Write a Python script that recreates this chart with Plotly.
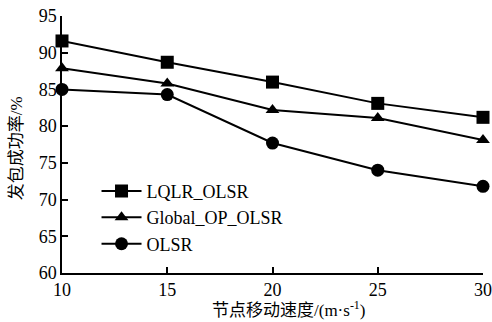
import plotly.graph_objects as go

speeds = [10, 15, 20, 25, 30]
lqlr_olsr = [91.6, 88.7, 86.0, 83.1, 81.2]
global_op_olsr = [87.9, 85.8, 82.2, 81.1, 78.1]
olsr = [85.0, 84.3, 77.7, 74.0, 71.8]

x_ticks = [10, 15, 20, 25, 30]
y_ticks = [60, 65, 70, 75, 80, 85, 90, 95]

LATIN = "Liberation Serif"
FONT = "Liberation Serif, Noto Sans CJK SC"

fig = go.Figure()
series = [
    ("LQLR_OLSR", lqlr_olsr, "square", 13),
    ("Global_OP_OLSR", global_op_olsr, "triangle-up", 12),
    ("OLSR", olsr, "circle", 13),
]
for name, vals, sym, sz in series:
    fig.add_trace(go.Scatter(
        x=speeds, y=vals, name=name, mode="lines+markers",
        line=dict(color="black", width=2),
        marker=dict(symbol=sym, size=sz, color="black"),
        cliponaxis=False,
    ))

fig.update_layout(
    width=492, height=322,
    margin=dict(l=62, r=9, t=16, b=49, autoexpand=False),
    paper_bgcolor="white", plot_bgcolor="white",
    font=dict(size=17, color="black"),
    showlegend=True,
    legend=dict(x=0.082, y=0.39, xanchor="left", yanchor="top",
                bgcolor="rgba(0,0,0,0)", font=dict(size=18, family=LATIN),
                tracegroupgap=0, itemwidth=40),
    xaxis=dict(range=[10, 30], tickvals=x_ticks, ticks="inside", ticklen=6,
               showline=True, linecolor="black", linewidth=1.5, showgrid=False,
               zeroline=False, tickcolor="black", tickwidth=1.5,
               automargin=False, tickfont=dict(size=18, family=LATIN)),
    yaxis=dict(range=[60, 95], tickvals=y_ticks, ticks="inside", ticklen=6,
               showline=True, linecolor="black", linewidth=1.5, showgrid=False,
               zeroline=False, tickcolor="black", tickwidth=1.5,
               automargin=False, tickfont=dict(size=18, family=LATIN)),
    annotations=[
        dict(text="节点移动速度/(m·s<sup>-1</sup>)", xref="paper", yref="paper",
             x=0.539, y=-0.14, xanchor="center", yanchor="middle",
             showarrow=False, font=dict(size=17, family=FONT)),
        dict(text="发包成功率/%", xref="paper", yref="paper",
             x=-0.109, y=0.486, xanchor="center", yanchor="middle",
             textangle=-90, showarrow=False, font=dict(size=17, family=FONT)),
    ],
)

post = (
    "document.body.style.margin='0';"
    "var st=document.createElement('style');"
    "st.textContent=\"svg text{font-family:'Liberation Serif','Noto Sans CJK SC',serif !important;}\";"
    "document.head.appendChild(st);"
    "var gd=document.getElementById('{plot_id}');"
    "Plotly.relayout(gd,{});"
)

fig.write_html("out.html", config={"displayModeBar": False}, post_script=post)
